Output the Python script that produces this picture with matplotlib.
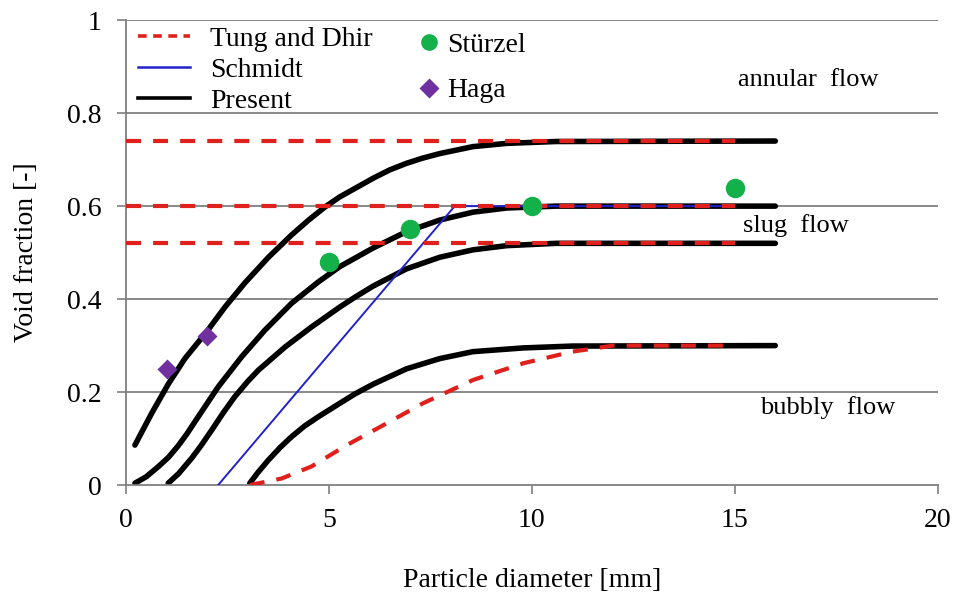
import matplotlib.pyplot as plt
from matplotlib.lines import Line2D

plt.rcParams["font.family"] = ["Liberation Serif", "DejaVu Serif"]

# Present model: void fraction vs particle diameter, one curve per regime boundary
present_x1 = [0.22, 0.63, 1.04, 1.45, 1.99, 2.44, 2.93, 3.51, 4.08, 4.5, 4.9, 5.27, 5.64, 6.09, 6.5, 6.91, 7.3, 7.73, 8.55, 9.38, 10.6, 16.0]
present_y1 = [0.086, 0.154, 0.217, 0.272, 0.33, 0.383, 0.435, 0.49, 0.538, 0.57, 0.598, 0.62, 0.638, 0.66, 0.678, 0.692, 0.703, 0.713, 0.728, 0.735, 0.739, 0.74]

present_x2 = [0.22, 0.5, 0.8, 1.05, 1.29, 1.5, 1.78, 2.27, 2.85, 3.42, 4.08, 4.74, 5.27, 5.64, 6.09, 6.91, 7.73, 8.55, 9.38, 10.6, 16.0]
present_y2 = [0.004, 0.018, 0.04, 0.06, 0.085, 0.11, 0.147, 0.211, 0.276, 0.333, 0.391, 0.437, 0.47, 0.488, 0.51, 0.545, 0.57, 0.587, 0.596, 0.60, 0.60]

present_x3 = [1.04, 1.3, 1.62, 1.85, 2.11, 2.4, 2.68, 3.0, 3.26, 3.92, 4.57, 5.27, 5.64, 6.09, 6.91, 7.73, 8.55, 9.38, 10.6, 16.0]
present_y3 = [0.004, 0.025, 0.058, 0.085, 0.118, 0.156, 0.19, 0.223, 0.247, 0.297, 0.34, 0.383, 0.404, 0.428, 0.465, 0.49, 0.506, 0.515, 0.52, 0.52]

present_x4 = [3.05, 3.25, 3.51, 3.8, 4.08, 4.4, 4.74, 5.27, 5.64, 6.09, 6.91, 7.73, 8.55, 9.79, 11.0, 16.0]
present_y4 = [0.004, 0.027, 0.054, 0.081, 0.104, 0.127, 0.147, 0.176, 0.196, 0.217, 0.25, 0.272, 0.287, 0.295, 0.299, 0.30]

# Tung and Dhir transition criteria
tung_levels = [0.74, 0.60, 0.52]
tung_x = [0.0, 15.0]
tung_curve_x = [3.05, 3.83, 4.57, 5.44, 6.26, 7.32, 8.55, 9.79, 11.0, 12.0, 15.0]
tung_curve_y = [0.0, 0.014, 0.04, 0.086, 0.125, 0.176, 0.226, 0.262, 0.287, 0.30, 0.30]

# Schmidt
schmidt_x = [2.27, 8.1, 15.0]
schmidt_y = [0.0, 0.60, 0.60]

# Experimental data
sturzel_x = [5, 7, 10, 15]
sturzel_y = [0.48, 0.55, 0.60, 0.64]
haga_x = [1, 2]
haga_y = [0.25, 0.32]

RED = "#e0201c"
BLUE = "#2222cc"
GREEN = "#14b04a"
PURPLE = "#7030a0"
GRID = "#7f7f7f"

fig = plt.figure(figsize=(9.56, 5.93), dpi=100)
ax = fig.add_axes([0.1318, 0.182, 0.849, 0.784])

for y in [0.2, 0.4, 0.6, 0.8, 1.0]:
    ax.axhline(y, color=GRID, lw=1.3, zorder=0)

for xs, ys in [(present_x1, present_y1), (present_x2, present_y2),
               (present_x3, present_y3), (present_x4, present_y4)]:
    ax.plot(xs, ys, color="black", lw=4.0, solid_capstyle="round",
            solid_joinstyle="round", zorder=2)

ax.plot(schmidt_x, schmidt_y, color=BLUE, lw=1.4, zorder=3)

dash = (0, (3.6, 2.9))
for level in tung_levels:
    ax.plot(tung_x, [level, level], color=RED, lw=3.0, linestyle=dash, zorder=4)
ax.plot(tung_curve_x, tung_curve_y, color=RED, lw=3.0, linestyle=dash, zorder=4)

ax.plot(sturzel_x, sturzel_y, "o", color=GREEN, ms=14, mec="none", zorder=5)
ax.plot(haga_x, haga_y, "D", color=PURPLE, ms=10.5, mec="none", zorder=5)

ax.text(16.8, 0.871, "annular  flow", fontsize=19, ha="center", va="center")
ax.text(16.5, 0.559, "slug  flow", fontsize=19, ha="center", va="center")
ax.text(17.3, 0.166, "bubbly  flow", fontsize=19, ha="center", va="center")

ax.set_xlim(0, 20)
ax.set_ylim(0, 1)
ax.set_xticks([0, 5, 10, 15, 20])
ax.set_yticks([0, 0.2, 0.4, 0.6, 0.8, 1.0])
ax.set_yticklabels(["0", "0.2", "0.4", "0.6", "0.8", "1"])
ax.tick_params(labelsize=20, direction="out", length=6.5, width=1.2, color=GRID)
ax.tick_params(axis="x", pad=10)
ax.tick_params(axis="y", pad=11)
for side in ["top", "right"]:
    ax.spines[side].set_visible(False)
for side in ["left", "bottom"]:
    ax.spines[side].set_color(GRID)
    ax.spines[side].set_linewidth(1.3)

ax.set_xlabel("Particle diameter [mm]", fontsize=20, labelpad=25)
ax.set_ylabel("Void fraction [-]", fontsize=20, labelpad=20)

line_handles = [
    Line2D([], [], color=RED, lw=2.6, linestyle=(0, (2.4, 1.8))),
    Line2D([], [], color=BLUE, lw=1.8),
    Line2D([], [], color="black", lw=2.6),
]
leg1 = ax.legend(line_handles, ["Tung and Dhir", "Schmidt", "Present"],
                 loc="upper left", bbox_to_anchor=(0.0148, 0.986), frameon=False,
                 fontsize=20, handlelength=1.87, handletextpad=0.72,
                 labelspacing=0.2, borderaxespad=0.0, borderpad=0.0)
ax.add_artist(leg1)

marker_handles = [
    Line2D([], [], marker="o", color=GREEN, ms=12, mec="none", linestyle="none"),
    Line2D([], [], marker="D", color=PURPLE, ms=10, mec="none", linestyle="none"),
]
ax.legend(marker_handles, ["Stürzel", "Haga"],
          loc="upper left", bbox_to_anchor=(0.36, 0.973), frameon=False,
          fontsize=20, handlelength=0.8, handletextpad=0.25,
          labelspacing=0.71, borderaxespad=0.0, borderpad=0.0)

fig.savefig("out.png", dpi=100)
